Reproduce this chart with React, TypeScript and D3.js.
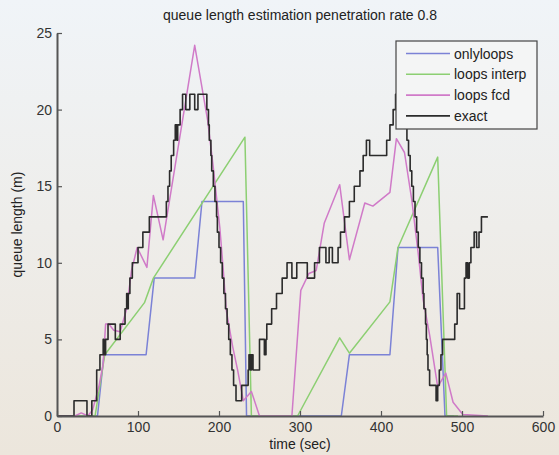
import React, { useEffect, useRef } from "react";
import * as d3 from "d3";

// queue length estimation, penetration rate 0.8

const onlyLoopsT = [0, 50, 58, 110, 120, 170, 179, 230, 234, 351, 361, 411, 421, 470, 479, 490];
const onlyLoopsV = [0, 0, 4, 4, 9, 9, 14, 14, 0, 0, 4, 4, 11, 11, 0, 0];

const interpT = [0, 47, 59, 108, 119, 232, 240, 297, 349, 361, 411, 421, 470, 481, 495];
const interpV = [0, 0, 4, 7.4, 9, 18.2, 0, 0, 5.1, 4.1, 7.45, 11, 16.9, 0, 0];

const fcdT = [
  0, 22, 30, 38, 44, 52, 57, 60, 64, 70, 78, 86, 92, 99, 111, 119, 131, 170, 186,
  193, 201, 205, 209, 217, 223, 230, 240, 250, 290, 301, 311, 320, 330, 349, 361,
  380, 390, 411, 419, 429, 438, 446, 452, 460, 470, 480, 489, 501, 532,
];
const fcdV = [
  0, 0, 0.2, 0, 0.4, 2, 3.4, 6, 6, 5.6, 5.5, 7, 9.5, 11, 9.7, 14.4, 11.5, 24.2, 19.3,
  16.2, 12.3, 9.7, 6.9, 4.5, 3, 1, 1.6, 0, 0, 8.2, 9.3, 9.5, 12.6, 15.1, 10.2,
  13.9, 13.7, 14.6, 18.1, 17.2, 14.1, 10.6, 7.6, 5.3, 1.9, 2.8, 0.9, 0.1, 0,
];

// exact queue: step values, each holds until the next time
const exactT = [
  0, 21, 37, 43, 49, 53, 57, 58, 60, 63, 72, 78, 84, 86, 87, 88, 90, 93, 100, 106,
  114, 135, 137, 139, 141, 144, 146, 148, 149, 152, 155, 159, 164, 170, 174, 185,
  187, 188, 190, 191, 193, 195, 197, 198, 200, 202, 204, 206, 208, 210, 212, 214,
  216, 218, 221, 228, 236, 237, 239, 240, 242, 250, 256, 258, 259, 265, 271, 278,
  284, 290, 296, 309, 318, 324, 332, 336, 340, 347, 350, 355, 361, 367, 374, 378,
  382, 386, 407, 411, 415, 418, 431, 432, 434, 436, 438, 440, 442, 444, 446, 448,
  450, 452, 453, 455, 456, 457, 458, 460, 468, 470, 472, 474, 476, 491, 494, 497,
  503, 505, 507, 509, 511, 515, 518, 521, 524, 532,
];
const exactV = [
  0, 1, 0, 1, 3, 4, 5, 4, 5, 6, 5, 6, 7, 8, 7, 8, 9, 10, 11, 12,
  13, 14, 15, 16, 17, 18, 19, 18, 19, 20, 21, 20, 21, 20, 21, 20,
  19, 18, 17, 16, 15, 14, 13, 12, 11, 10, 9, 8, 7, 6, 5, 4,
  3, 2, 1, 2, 3, 4, 3, 4, 3, 5, 4, 5, 6, 7, 8, 9,
  10, 9, 10, 9, 10, 11, 10, 11, 10, 11, 12, 13, 14, 15, 16, 17,
  18, 17, 18, 19, 20, 21, 19, 18, 17, 16, 15, 14, 13, 12, 11, 10,
  9, 8, 7, 6, 5, 4, 3, 2, 1, 2, 3, 4, 5, 6, 8, 7,
  9, 10, 9, 10, 11, 12, 11, 12, 13, 13,
];

const seriesNames = ["onlyloops", "loops interp", "loops fcd", "exact"];
const seriesColors = ["#7b82d6", "#8ccf72", "#d07ac8", "#2b2b2b"];
const xTicks = [0, 100, 200, 300, 400, 500, 600];
const yTicks = [0, 5, 10, 15, 20, 25];

const App: React.FC = () => {
  const svgRef = useRef<SVGSVGElement | null>(null);

  useEffect(() => {
    const width = 559;
    const height = 455;
    const marginLeft = 57;
    const marginRight = 16;
    const marginTop = 33;
    const marginBottom = 39;
    const font = "'Liberation Sans', Arial, sans-serif";

    const svg = d3.select(svgRef.current);
    svg.selectAll("*").remove();
    svg.attr("width", width).attr("height", height).attr("viewBox", [0, 0, width, height]);

    const defs = svg.append("defs");
    const grad = defs
      .append("linearGradient")
      .attr("id", "bg")
      .attr("x1", 0)
      .attr("y1", 0)
      .attr("x2", 0)
      .attr("y2", 1);
    grad.append("stop").attr("offset", "0%").attr("stop-color", "#f0f4f8");
    grad.append("stop").attr("offset", "100%").attr("stop-color", "#ece6dc");
    svg.append("rect").attr("width", width).attr("height", height).attr("fill", "url(#bg)");

    const x = d3.scaleLinear().domain([0, 600]).range([marginLeft, width - marginRight]);
    const y = d3.scaleLinear().domain([0, 25]).range([height - marginBottom, marginTop]);

    const toPoints = (ts: number[], vs: number[]) => ts.map((t, i) => [t, vs[i]] as [number, number]);

    const line = d3
      .line<[number, number]>()
      .x((d) => x(d[0]))
      .y((d) => y(d[1]));
    const stepLine = d3
      .line<[number, number]>()
      .x((d) => x(d[0]))
      .y((d) => y(d[1]))
      .curve(d3.curveStepAfter);

    const plot = svg.append("g").attr("fill", "none").attr("stroke-linejoin", "round");

    plot
      .append("path")
      .attr("d", line(toPoints(onlyLoopsT, onlyLoopsV)))
      .attr("stroke", seriesColors[0])
      .attr("stroke-width", 1.5);
    plot
      .append("path")
      .attr("d", line(toPoints(interpT, interpV)))
      .attr("stroke", seriesColors[1])
      .attr("stroke-width", 1.5);
    plot
      .append("path")
      .attr("d", line(toPoints(fcdT, fcdV)))
      .attr("stroke", seriesColors[2])
      .attr("stroke-width", 1.5);
    plot
      .append("path")
      .attr("d", stepLine(toPoints(exactT, exactV)))
      .attr("stroke", seriesColors[3])
      .attr("stroke-width", 1.6);

    // axes
    const gx = svg
      .append("g")
      .attr("transform", `translate(0,${height - marginBottom})`)
      .call(d3.axisBottom(x).tickValues(xTicks).tickSizeInner(-5).tickSizeOuter(0).tickPadding(6));
    const gy = svg
      .append("g")
      .attr("transform", `translate(${marginLeft},0)`)
      .call(d3.axisLeft(y).tickValues(yTicks).tickSizeInner(-5).tickSizeOuter(0).tickPadding(5));

    [gx, gy].forEach((g) => {
      g.select(".domain").attr("stroke", "#555").attr("stroke-width", 2);
      g.selectAll(".tick line").attr("stroke", "#555").attr("stroke-width", 1.2);
      g.selectAll("text")
        .attr("fill", "#333")
        .style("font-family", font)
        .style("font-size", "14px");
    });

    // title and labels
    svg
      .append("text")
      .attr("x", 300)
      .attr("y", 20)
      .attr("text-anchor", "middle")
      .attr("fill", "#222")
      .style("font-family", font)
      .style("font-size", "14px")
      .text("queue length estimation penetration rate 0.8");
    svg
      .append("text")
      .attr("x", x(300))
      .attr("y", 449)
      .attr("text-anchor", "middle")
      .attr("fill", "#222")
      .style("font-family", font)
      .style("font-size", "14px")
      .text("time (sec)");
    svg
      .append("text")
      .attr("transform", `translate(22,${(marginTop + height - marginBottom) / 2}) rotate(-90)`)
      .attr("text-anchor", "middle")
      .attr("fill", "#222")
      .style("font-family", font)
      .style("font-size", "14px")
      .text("queue length (m)");

    // legend
    const legend = svg.append("g").attr("transform", "translate(396,41)");
    legend
      .append("rect")
      .attr("width", 141)
      .attr("height", 88)
      .attr("fill", "#f4f5f5")
      .attr("stroke", "#444")
      .attr("stroke-width", 1.2);
    seriesNames.forEach((name, i) => {
      const ry = 12.5 + i * 20.8;
      legend
        .append("line")
        .attr("x1", 10)
        .attr("x2", 54)
        .attr("y1", ry)
        .attr("y2", ry)
        .attr("stroke", seriesColors[i])
        .attr("stroke-width", 1.6);
      legend
        .append("text")
        .attr("x", 58)
        .attr("y", ry + 5)
        .attr("fill", "#222")
        .style("font-family", font)
        .style("font-size", "14px")
        .text(name);
    });
  }, []);

  return (
    <div style={{ position: "absolute", left: 0, top: 0, width: 559, height: 455 }}>
      <svg ref={svgRef}></svg>
    </div>
  );
};

export default App;
